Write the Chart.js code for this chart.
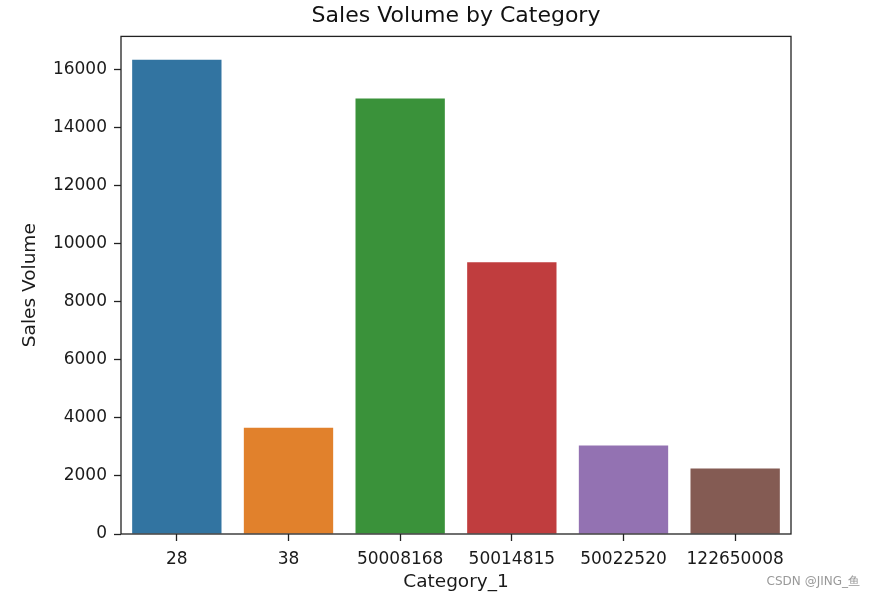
<!DOCTYPE html>
<html>
<head>
<meta charset="utf-8">
<script src="https://cdn.jsdelivr.net/npm/chart.js@4"></script>
<style>
  html, body { margin: 0; padding: 0; background: #fff; }
  #wrap { width: 876px; height: 598px; }
</style>
</head>
<body>
<div id="wrap"><canvas id="c" width="876" height="598"></canvas></div>
<script>
// data
const categories = ['28', '38', '50008168', '50014815', '50022520', '122650008'];
const salesVolume = [16340, 3660, 15000, 9360, 3050, 2260];
const barColors = ['#3274a1', '#e1812c', '#3a923a', '#c03d3e', '#9372b2', '#845b53'];
const yTicks = [0, 2000, 4000, 6000, 8000, 10000, 12000, 14000, 16000];

const FONT = 'DejaVu Sans, sans-serif';

// box around the plot + watermark
const framePlugin = {
  id: 'frame',
  afterDraw(chart) {
    const { ctx, chartArea: a } = chart;
    ctx.save();
    ctx.strokeStyle = '#222';
    ctx.lineWidth = 1.3;
    ctx.strokeRect(a.left, a.top, a.right - a.left, a.bottom - a.top);
    ctx.fillStyle = '#999';
    ctx.font = '12px ' + FONT;
    ctx.textAlign = 'right';
    ctx.textBaseline = 'middle';
    ctx.fillText('CSDN @JING_鱼', 860, 582);
    ctx.restore();
  }
};

new Chart(document.getElementById('c'), {
  type: 'bar',
  data: {
    labels: categories,
    datasets: [{
      data: salesVolume,
      backgroundColor: barColors,
      borderWidth: 0,
      categoryPercentage: 0.8,
      barPercentage: 1.0
    }]
  },
  options: {
    responsive: false,
    animation: false,
    layout: { padding: { left: 0, right: 85, top: 0, bottom: 0 } },
    plugins: {
      legend: { display: false },
      tooltip: { enabled: false },
      title: {
        display: true,
        fullSize: false,
        text: 'Sales Volume by Category',
        color: '#111',
        font: { family: FONT, size: 22, weight: 'normal' },
        padding: { top: 3, bottom: 7 }
      }
    },
    scales: {
      x: {
        grid: { display: true, offset: false, drawOnChartArea: false, tickLength: 7, color: '#222', tickWidth: 1.3 },
        border: { display: false },
        ticks: { color: '#1a1a1a', font: { family: FONT, size: 17 }, padding: 8, maxRotation: 0, autoSkip: false },
        title: { display: true, text: 'Category_1', color: '#1a1a1a', font: { family: FONT, size: 18.5 }, padding: { top: 0, bottom: 5 } },
        afterFit(s) { s.height = 64; }
      },
      y: {
        min: 0,
        max: 17140,
        afterBuildTicks(s) { s.ticks = yTicks.map(v => ({ value: v })); },
        grid: { display: true, drawOnChartArea: false, tickLength: 7, color: '#222', tickWidth: 1.3 },
        border: { display: false },
        ticks: { color: '#1a1a1a', font: { family: FONT, size: 17 }, padding: 7, callback: v => String(v) },
        title: { display: true, text: 'Sales Volume', color: '#1a1a1a', font: { family: FONT, size: 18.5 }, padding: { top: 19, bottom: 0 } },
        afterFit(s) { s.width = 121; }
      }
    }
  },
  plugins: [framePlugin]
});
</script>
</body>
</html>
